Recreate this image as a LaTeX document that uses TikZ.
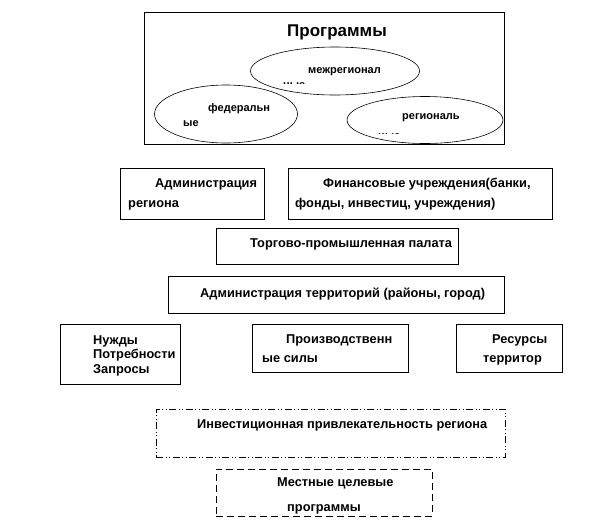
\documentclass[tikz,border=0pt]{standalone}
\usepackage{fontspec}
\setmainfont{Liberation Sans}
\usetikzlibrary{shapes.geometric}

\tikzset{
	blk/.style={rectangle, draw=black, line width=0.7pt, inner sep=0pt, anchor=north west},
	oval/.style={ellipse, draw=black, line width=0.6pt, inner sep=0pt},
	txt/.style={anchor=base west, inner sep=0pt, font=\fontsize{12.8}{15}\selectfont\bfseries},
	smalltxt/.style={anchor=base west, inner sep=0pt, font=\fontsize{11}{13}\selectfont\bfseries},
	dashdotbox/.style={dash pattern=on 7pt off 2.5pt on 1pt off 2.5pt on 1pt off 2.5pt},
	dashbox/.style={dash pattern=on 7pt off 4pt}
}

\begin{document}
\begin{tikzpicture}[x=1pt, y=-1pt]
\useasboundingbox (0,0) rectangle (612,528);

% programmes
\node at (144,12)[blk, minimum width=360pt, minimum height=132pt] (prog) {};
\node at (287,36)[anchor=base west, inner sep=0pt, font=\fontsize{17}{19}\selectfont\bfseries] (progtitle) {Программы};
\node at (335,71)[oval, minimum width=169pt, minimum height=48pt] (interreg) {};
\node at (226,114)[oval, minimum width=143pt, minimum height=58pt] (federal) {};
\node at (425,120)[oval, minimum width=156pt, minimum height=47pt] (regional) {};
\node at (308,73)[smalltxt] (interregA) {межрегионал};
\node at (208,111)[smalltxt] (federalA) {федеральн};
\node at (183,126)[smalltxt] (federalB) {ые};
\node at (402,119)[smalltxt] (regionalA) {региональ};
\begin{scope}
	\clip (270,60) rectangle (400,83);
	\node at (283,88.5)[smalltxt] (interregB) {ные};
\end{scope}
\begin{scope}
	\clip (370,105) rectangle (480,133.5);
	\node at (378,139)[smalltxt] (regionalB) {ные};
\end{scope}

% participants
\node at (120,168)[blk, minimum width=144pt, minimum height=51pt] (adminreg) {};
\node at (155,187)[txt] (adminregA) {Администрация};
\node at (128,207)[txt] (adminregB) {региона};

\node at (288,168)[blk, minimum width=264pt, minimum height=51pt] (finance) {};
\node at (323,187)[txt] (financeA) {Финансовые учреждения(банки,};
\node at (295,207)[txt] (financeB) {фонды, инвестиц, учреждения)};

\node at (216,228)[blk, minimum width=242pt, minimum height=36pt] (tpp) {};
\node at (250,247)[txt] (tppA) {Торгово-промышленная палата};

\node at (168,276)[blk, minimum width=336pt, minimum height=37pt] (adminter) {};
\node at (200,297)[txt] (adminterA) {Администрация территорий (районы, город)};

% territory
\node at (60,324)[blk, minimum width=120pt, minimum height=60pt] (needs) {};
\node at (93,344)[txt] (needsA) {Нужды};
\node at (93,358.5)[txt] (needsB) {Потребности};
\node at (93,373)[txt] (needsC) {Запросы};

\node at (252,324)[blk, minimum width=156pt, minimum height=48pt] (prodforces) {};
\node at (286,343)[txt] (prodforcesA) {Производственн};
\node at (262,362)[txt] (prodforcesB) {ые силы};

\node at (456,324)[blk, minimum width=106pt, minimum height=48pt] (resources) {};
\node at (492,343)[txt] (resourcesA) {Ресурсы};
\node at (483,362)[txt] (resourcesB) {территор};

% result
\node at (156,409)[blk, dashdotbox, minimum width=349pt, minimum height=48pt] (invest) {};
\node at (197,428)[txt] (investA) {Инвестиционная привлекательность региона};

\node at (216,469)[blk, dashbox, minimum width=216pt, minimum height=47pt] (localprog) {};
\node at (277,486)[txt] (localprogA) {Местные целевые};
\node at (287,511)[txt] (localprogB) {программы};
\end{tikzpicture}
\end{document}
